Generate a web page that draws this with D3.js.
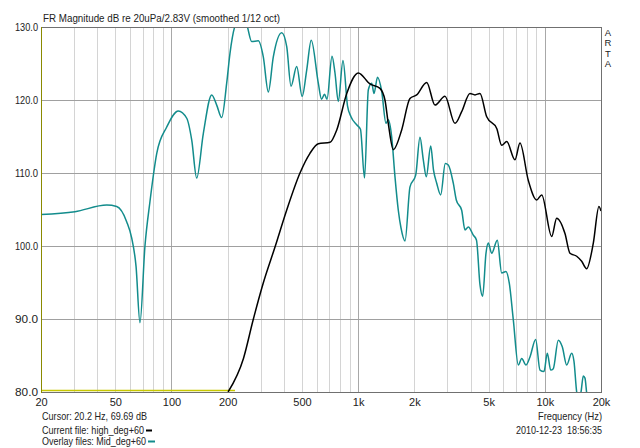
<!DOCTYPE html>
<html>
<head>
<meta charset="utf-8">
<script src="https://cdn.jsdelivr.net/npm/d3@7"></script>
<style>
  body { margin: 0; background: #fff; }
  svg { display: block; }
  text { font-family: "Liberation Sans", Arial, sans-serif; font-size: 11px; fill: #222; }
</style>
</head>
<body>
<script>
// tick values / labels
var xTickValues = [20, 50, 100, 200, 500, 1000, 2000, 5000, 10000, 20000];
var xTickLabels = ["20", "50", "100", "200", "500", "1k", "2k", "5k", "10k", "20k"];
var yTickValues = [80, 90, 100, 110, 120, 130];

// current file: high_deg+60 (black)
var highFreq = [201, 243, 274, 310, 359, 414, 488, 552, 612, 707, 768, 869, 1002, 1157, 1309, 1392, 1450, 1543, 1711, 1895,
  2058, 2330, 2580, 2918, 3302, 3586, 3972, 4226, 4494, 4884, 5526, 5876, 6250, 6922, 7361, 8156, 9046, 9626, 10886, 11576,
  12824, 13643, 14820, 15760, 16762, 18190, 19500, 20000];
var highDb = [80.0, 84.6, 89.9, 94.9, 99.9, 104.9, 110.0, 112.7, 114.0, 114.2, 115.9, 120.9, 123.7, 122.2, 121.6, 120.0, 116.8, 113.2, 115.9, 120.2,
  120.7, 122.4, 119.3, 120.5, 116.8, 118.4, 120.9, 120.7, 120.9, 117.7, 116.1, 113.8, 114.3, 111.8, 114.1, 109.0, 106.3, 107.0, 101.3, 103.8,
  101.7, 99.0, 98.6, 97.9, 96.9, 100.4, 105.4, 104.8];

// overlay file: Mid_deg+60 (teal)
var midFreq = [20, 30.4, 45.0, 50.9, 57.6, 61.2, 64.6, 67.8, 72.1, 76.7,
  83.4, 94.3, 108.8, 120.7, 128.4, 136.5, 148.1, 164.3, 174.7, 185.8,
  197.6, 205.8, 223.6, 235.8, 253, 269, 291.8, 310.4, 330.2, 351.2,
  389.6, 414.4, 436.8, 468.6, 501.4, 530.2, 560.6, 611.8, 636.4, 660.4,
  681, 724.4, 751.6, 782.8, 829.6, 877, 915.6, 982, 1029, 1082,
  1134, 1182, 1216, 1270, 1337, 1410, 1450, 1512, 1575, 1641,
  1696, 1783, 1896, 2034, 2144, 2234, 2318, 2448, 2534, 2636,
  2768, 2930, 3040, 3234, 3356, 3586, 3736, 3892, 4138, 4306,
  4494, 4646, 4840, 4980, 5192, 5566, 5876, 6194, 6452, 6780,
  7212, 7522, 7930, 8328, 8934, 9421, 9900, 10312, 10754, 11104,
  11808, 12406, 13100, 13932, 14332, 14820, 15152, 15628, 16076, 16416,
  16828, 20000];
var midDb = [104.3, 104.7, 105.6, 105.4, 103.3, 101.1, 97.2, 89.5, 100.0, 106.1,
  112.7, 116.3, 118.5, 117.5, 114.5, 109.3, 115.4, 120.7, 119.3, 117.6,
  122.3, 126.4, 130.7, 131.1, 130.3, 128.0, 128.1, 125.9, 121.1, 125.9,
  129.2, 127.3, 121.9, 124.6, 120.5, 124.1, 128.2, 122.3, 120.1, 120.8,
  120.1, 126.0, 123.7, 119.8, 125.4, 119.2, 117.7, 116.6, 116.0, 109.3,
  121.4, 122.3, 120.9, 123.1, 121.2, 116.8, 117.3, 115.0, 109.5, 104.9,
  102.5, 100.7, 108.1, 109.7, 114.9, 111.8, 109.5, 113.7, 110.4, 108.6,
  107.0, 111.3, 111.1, 108.6, 106.3, 104.9, 102.2, 102.6, 101.5, 100.8,
  94.7, 93.1, 99.0, 100.4, 99.0, 100.8, 96.3, 96.5, 94.9, 89.9,
  83.7, 84.6, 83.7, 84.8, 87.2, 83.0, 82.8, 85.3, 83.0, 83.2,
  87.1, 86.2, 83.7, 85.3, 84.2, 80.0, 79.2, 80.0, 82.2, 81.9,
  79.6, 76];

// third trace sitting on the floor (yellow)
var floorFreq = [20, 219];
var floorDb = [80.2, 80.2];

var W = 640, H = 448;
var margin = { top: 27, right: 39, bottom: 56, left: 41 };
var width = W - margin.left - margin.right;
var height = H - margin.top - margin.bottom;

var svg = d3.select("body").append("svg")
  .attr("width", W)
  .attr("height", H);

var g = svg.append("g")
  .attr("transform", "translate(" + margin.left + "," + margin.top + ")");

var x = d3.scaleLog().domain([20, 20000]).range([0, width]);
var y = d3.scaleLinear().domain([80, 130]).range([height, 0]);

// vertical grid: every 1..9 step per decade
var gridFreqs = [];
[10, 100, 1000, 10000].forEach(function (dec) {
  for (var k = 1; k < 10; k++) {
    var f = dec * k;
    if (f > 20 && f < 20000) gridFreqs.push(f);
  }
});

g.append("g")
  .selectAll("line")
  .data(gridFreqs)
  .enter()
  .append("line")
  .attr("x1", function (d) { return Math.round(x(d)) + 0.5; })
  .attr("x2", function (d) { return Math.round(x(d)) + 0.5; })
  .attr("y1", 0)
  .attr("y2", height)
  .attr("stroke", function (d) { return (d === 100 || d === 1000 || d === 10000) ? "#a8a8a8" : "#d4d4d4"; })
  .attr("stroke-width", 1);

g.append("g")
  .selectAll("line")
  .data(yTickValues.slice(1, -1))
  .enter()
  .append("line")
  .attr("x1", 0)
  .attr("x2", width)
  .attr("y1", function (d) { return Math.round(y(d)) + 0.5; })
  .attr("y2", function (d) { return Math.round(y(d)) + 0.5; })
  .attr("stroke", "#a0a0a0")
  .attr("stroke-width", 1);

// curves
svg.append("clipPath").attr("id", "plotclip")
  .append("rect").attr("x", 0).attr("y", 0).attr("width", width).attr("height", height);

var line = d3.line()
  .x(function (d) { return x(d[0]); })
  .y(function (d) { return y(d[1]); })
  .curve(d3.curveMonotoneX);

var plot = g.append("g").attr("clip-path", "url(#plotclip)");

plot.append("path")
  .datum(d3.zip(floorFreq, floorDb))
  .attr("d", line)
  .attr("fill", "none")
  .attr("stroke", "#c8c800")
  .attr("stroke-width", 1.5);

plot.append("path")
  .datum(d3.zip(midFreq, midDb))
  .attr("d", line)
  .attr("fill", "none")
  .attr("stroke", "#128c8c")
  .attr("stroke-width", 1.5);

plot.append("path")
  .datum(d3.zip(highFreq, highDb))
  .attr("d", line)
  .attr("fill", "none")
  .attr("stroke", "#000")
  .attr("stroke-width", 1.5);

// frame
g.append("rect")
  .attr("x", 0.5).attr("y", 0.5)
  .attr("width", width).attr("height", height)
  .attr("fill", "none")
  .attr("stroke", "#707070");
g.append("line")
  .attr("x1", 0.5).attr("x2", 0.5)
  .attr("y1", 0).attr("y2", height + 1)
  .attr("stroke", "#8a8a00");

// axes (labels only)
var xAxis = d3.axisBottom(x)
  .tickValues(xTickValues)
  .tickFormat(function (d, i) { return xTickLabels[i]; })
  .tickSize(0).tickPadding(6);
var xg = g.append("g")
  .attr("transform", "translate(0," + height + ")")
  .call(xAxis);
xg.select(".domain").remove();
xg.selectAll("text").attr("font-size", null).attr("font-family", null).attr("fill", null);

var yAxis = d3.axisLeft(y)
  .tickValues(yTickValues)
  .tickFormat(d3.format(".1f"))
  .tickSize(0).tickPadding(3);
var yg = g.append("g").call(yAxis);
yg.select(".domain").remove();
yg.selectAll("text").attr("font-size", null).attr("font-family", null).attr("fill", null)
  .attr("textLength", 23).attr("lengthAdjust", "spacingAndGlyphs");

// title
svg.append("text")
  .attr("x", 43).attr("y", 22)
  .attr("textLength", 237).attr("lengthAdjust", "spacingAndGlyphs")
  .text("FR Magnitude dB re 20uPa/2.83V (smoothed 1/12 oct)");

// ARTA
["A", "R", "T", "A"].forEach(function (c, i) {
  svg.append("text")
    .attr("x", 608).attr("y", 36 + i * 10.4)
    .attr("text-anchor", "middle")
    .style("font-size", "9.5px")
    .text(c);
});

// bottom texts
svg.append("text").attr("x", 42).attr("y", 420)
  .attr("textLength", 105).attr("lengthAdjust", "spacingAndGlyphs")
  .text("Cursor: 20.2 Hz, 69.69 dB");
svg.append("text").attr("x", 42).attr("y", 434)
  .attr("textLength", 102).attr("lengthAdjust", "spacingAndGlyphs")
  .text("Current file: high_deg+60");
svg.append("text").attr("x", 42).attr("y", 445)
  .attr("textLength", 104).attr("lengthAdjust", "spacingAndGlyphs")
  .text("Overlay files: Mid_deg+60");

svg.append("line")
  .attr("x1", 146).attr("x2", 152)
  .attr("y1", 430.5).attr("y2", 430.5)
  .attr("stroke", "#000").attr("stroke-width", 2);
svg.append("line")
  .attr("x1", 148).attr("x2", 155)
  .attr("y1", 441.5).attr("y2", 441.5)
  .attr("stroke", "#128c8c").attr("stroke-width", 2);

svg.append("text").attr("x", 602).attr("y", 420).attr("text-anchor", "end")
  .attr("textLength", 64).attr("lengthAdjust", "spacingAndGlyphs")
  .text("Frequency (Hz)");
svg.append("text").attr("x", 602).attr("y", 434).attr("text-anchor", "end")
  .attr("textLength", 86).attr("lengthAdjust", "spacingAndGlyphs")
  .style("white-space", "pre")
  .text("2010-12-23  18:56:35");
</script>
</body>
</html>
